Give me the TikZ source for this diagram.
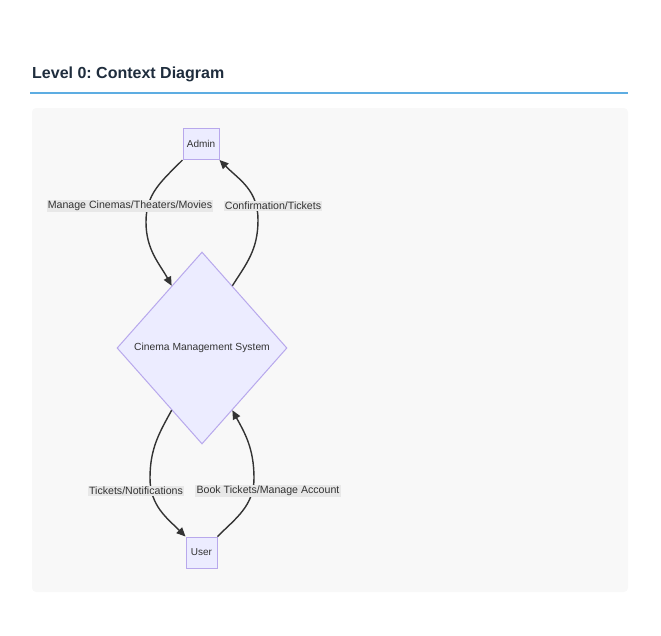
\documentclass[tikz,border=0pt]{standalone}
\usepackage{fontspec}
\setmainfont{Liberation Sans}
\frenchspacing
\usetikzlibrary{shapes.geometric,arrows.meta}
\definecolor{nodefill}{HTML}{ECECFF}
\definecolor{nodeline}{HTML}{B8A8EC}
\definecolor{edgeline}{HTML}{333333}
\definecolor{labelfill}{HTML}{E8E8E8}
\definecolor{panelfill}{HTML}{F8F8F8}
\definecolor{titlecol}{HTML}{1F2D3D}
\definecolor{rulecol}{HTML}{5DADE2}
\tikzset{
	entity/.style={draw=nodeline, fill=nodefill, line width=1pt, minimum width=36pt,
		minimum height=31pt, inner sep=0pt, font=\fontsize{10}{12}\selectfont, text=edgeline},
	process/.style={diamond, draw=nodeline, fill=nodefill, line width=1pt,
		minimum width=170pt, minimum height=192pt, inner sep=0pt,
		font=\fontsize{10.3}{12}\selectfont, text=edgeline},
	flowlabel/.style={fill=labelfill, inner sep=1.2pt, font=\fontsize{10.6}{12}\selectfont, text=edgeline},
	flow/.style={draw=edgeline, line width=1.4pt, -{Triangle[length=9pt,width=8pt]}}
}
\begin{document}
\begin{tikzpicture}[x=1pt, y=-1pt]
	\useasboundingbox (0,0) rectangle (661,635);
	% Ueberschrift
	\node[anchor=west, font=\bfseries\fontsize{16}{19}\selectfont, text=titlecol, inner sep=0pt]
		(title) at (32,74) {Level 0: Context Diagram};
	\draw[rulecol, line width=1.2pt] (30,93) -- (628,93);
	\fill[panelfill, rounded corners=4pt] (32,108) rectangle (628,592);

	% Knoten
	\node[entity] (admin) at (201,144) {Admin};
	\node[process] (cms) at (202,348) {Cinema Management System};
	\node[entity, minimum width=31pt] (user) at (201.5,552.5) {User};

	% Verbindungen
	\draw[flow] (admin.south west) .. controls +(-22,22) and +(0,-28) .. (146,222)
		.. controls +(0,28) and +(-12,-22) .. (cms.116);
	\draw[flow] (cms.64) .. controls +(14,-22) and +(0,30) .. (258,220)
		.. controls +(0,-30) and +(20,20) .. (admin.south east);
	\draw[flow] (cms.244) .. controls +(-12,22) and +(0,-30) .. (150,478)
		.. controls +(0,28) and +(-18,-18) .. (user.north west);
	\draw[flow] (user.north east) .. controls +(18,-18) and +(0,28) .. (254,478)
		.. controls +(0,-30) and +(12,22) .. (cms.296);

	% Beschriftungen
	\node[flowlabel] (lmanage) at (130,206) {Manage Cinemas/Theaters/Movies};
	\node[flowlabel] (lconfirm) at (273,206) {Confirmation/Tickets};
	\node[flowlabel] (ltickets) at (136,491) {Tickets/Notifications};
	\node[flowlabel] (lbook) at (268,491) {Book Tickets/Manage Account};
\end{tikzpicture}
\end{document}
